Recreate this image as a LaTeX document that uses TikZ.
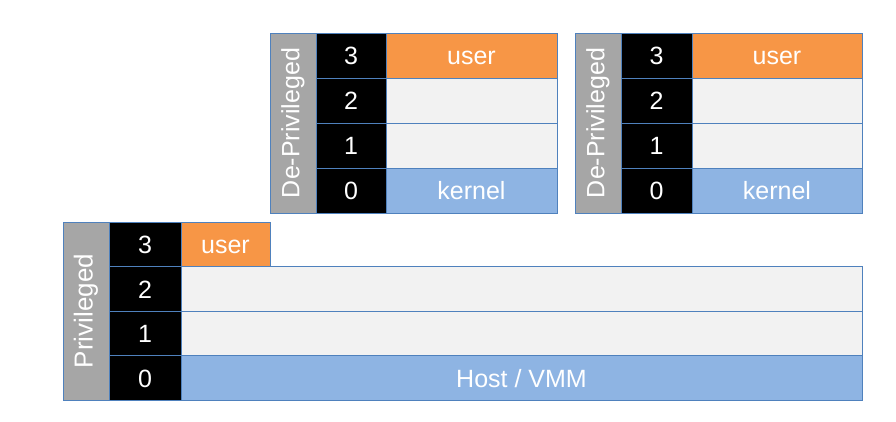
\documentclass[tikz,border=0pt]{standalone}
\usepackage{fontspec}
\setmainfont{Liberation Sans}
\definecolor{ringorange}{HTML}{F79646}
\definecolor{ringblue}{HTML}{8EB4E3}
\definecolor{ringlight}{HTML}{F2F2F2}
\definecolor{ringgray}{HTML}{A6A6A6}
\definecolor{edgeblue}{HTML}{4F81BD}
\tikzset{
  cellbase/.style={draw=edgeblue, line width=0.8pt, anchor=north west, inner sep=0pt, outer sep=0pt,
    text=white, font=\fontsize{25}{25}\selectfont, text height=18.5pt, text depth=0pt},
  graycol/.style={cellbase, fill=ringgray},
  numcell/.style={cellbase, fill=black},
  usercell/.style={cellbase, fill=ringorange},
  emptycell/.style={cellbase, fill=ringlight},
  kerncell/.style={cellbase, fill=ringblue},
  sidelabel/.style={text=white, font=\fontsize{25}{25}\selectfont, rotate=90, inner sep=0pt}
}
\begin{document}
\begin{tikzpicture}[x=1pt,y=-1pt]
\useasboundingbox (0,0) rectangle (896,422);
% ---------- Guest block 1 ----------
\node[graycol, minimum width=46pt, minimum height=180pt] (g1) at (270,33) {};
\node[sidelabel] (g1l) at (g1.center) {De-Privileged};
\node[numcell, minimum width=70pt, minimum height=45pt] (g1n3) at (316,33) {3};
\node[numcell, minimum width=70pt, minimum height=45pt] (g1n2) at (316,78) {2};
\node[numcell, minimum width=70pt, minimum height=45pt] (g1n1) at (316,123) {1};
\node[numcell, minimum width=70pt, minimum height=45pt] (g1n0) at (316,168) {0};
\node[usercell, minimum width=171pt, minimum height=45pt] (g1r3) at (386,33) {user};
\node[emptycell, minimum width=171pt, minimum height=45pt] (g1r2) at (386,78) {};
\node[emptycell, minimum width=171pt, minimum height=45pt] (g1r1) at (386,123) {};
\node[kerncell, minimum width=171pt, minimum height=45pt] (g1r0) at (386,168) {kernel};
% ---------- Guest block 2 ----------
\node[graycol, minimum width=46pt, minimum height=180pt] (g2) at (575,33) {};
\node[sidelabel] (g2l) at (g2.center) {De-Privileged};
\node[numcell, minimum width=71pt, minimum height=45pt] (g2n3) at (621,33) {3};
\node[numcell, minimum width=71pt, minimum height=45pt] (g2n2) at (621,78) {2};
\node[numcell, minimum width=71pt, minimum height=45pt] (g2n1) at (621,123) {1};
\node[numcell, minimum width=71pt, minimum height=45pt] (g2n0) at (621,168) {0};
\node[usercell, minimum width=170pt, minimum height=45pt] (g2r3) at (692,33) {user};
\node[emptycell, minimum width=170pt, minimum height=45pt] (g2r2) at (692,78) {};
\node[emptycell, minimum width=170pt, minimum height=45pt] (g2r1) at (692,123) {};
\node[kerncell, minimum width=170pt, minimum height=45pt] (g2r0) at (692,168) {kernel};
% ---------- Host block ----------
\node[graycol, minimum width=46pt, minimum height=178pt] (h) at (63,222) {};
\node[sidelabel, font=\fontsize{26}{26}\selectfont] (hl) at (h.center) {Privileged};
\node[numcell, minimum width=72pt, minimum height=44.5pt] (hn3) at (109,222) {3};
\node[numcell, minimum width=72pt, minimum height=44.5pt] (hn2) at (109,266.5) {2};
\node[numcell, minimum width=72pt, minimum height=44.5pt] (hn1) at (109,311) {1};
\node[numcell, minimum width=72pt, minimum height=44.5pt] (hn0) at (109,355.5) {0};
\node[usercell, minimum width=89pt, minimum height=44.5pt] (hr3) at (181,222) {user};
\node[emptycell, minimum width=681pt, minimum height=44.5pt] (hr2) at (181,266.5) {};
\node[emptycell, minimum width=681pt, minimum height=44.5pt] (hr1) at (181,311) {};
\node[kerncell, minimum width=681pt, minimum height=44.5pt] (hr0) at (181,355.5) {Host / VMM};
\end{tikzpicture}
\end{document}
